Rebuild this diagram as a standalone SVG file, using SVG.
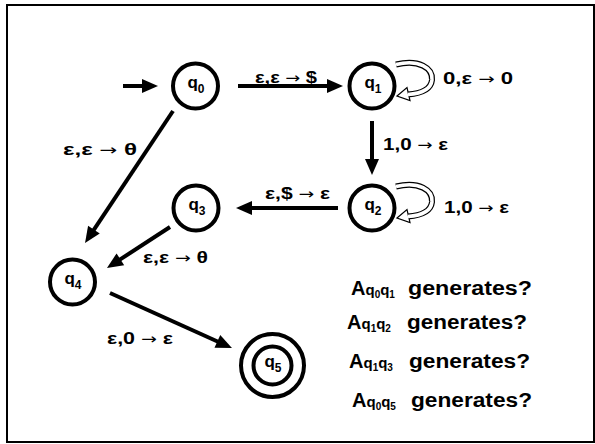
<svg xmlns="http://www.w3.org/2000/svg" width="595" height="444" viewBox="0 0 595 444">
<style>
text{font-family:"Liberation Sans",Arial,sans-serif;font-weight:bold;fill:#000}
.node{fill:#fff;stroke:#000;stroke-width:4}
.lbl{font-size:17px}
.nl{font-size:17px}
.edge{stroke:#000;stroke-width:4;fill:none}
.ar{font-weight:normal;font-family:"DejaVu Sans",sans-serif;font-size:15px}
.big{font-size:20px}
</style>
<defs>
<marker id="ah" markerUnits="userSpaceOnUse" markerWidth="16" markerHeight="14" refX="2" refY="7" orient="auto" overflow="visible">
<path d="M0,0 L16,7 L0,14 z" fill="#000"/>
</marker>
<path id="loop" d="M396,64.5 C419,59 433,68 432,80 C431,89 421,93.5 408,94.5"/>
</defs>
<rect x="7" y="5" width="587" height="437" fill="#fff" stroke="#000" stroke-width="2"/>
<g id="connectors">
<line class="edge" x1="123" y1="86" x2="144" y2="86" marker-end="url(#ah)"/>
<line class="edge" x1="238" y1="86" x2="329" y2="86" marker-end="url(#ah)"/>
<line class="edge" x1="372" y1="121" x2="372" y2="161" marker-end="url(#ah)"/>
<line class="edge" x1="338" y1="208" x2="250" y2="208" marker-end="url(#ah)"/>
<line class="edge" x1="173" y1="111" x2="92.8" y2="231.4" marker-end="url(#ah)"/>
<line class="edge" x1="170" y1="227" x2="118.7" y2="260.4" marker-end="url(#ah)"/>
<line class="edge" x1="110" y1="293" x2="219.2" y2="342.3" marker-end="url(#ah)"/>
<g id="loop1">
<use href="#loop" fill="none" stroke="#000" stroke-width="6"/>
<polygon points="397,96 407,87.5 410,100.5" fill="#fff" stroke="#000" stroke-width="1.2"/>
<use href="#loop" fill="none" stroke="#fff" stroke-width="3.6"/>
</g>
<g id="loop2" transform="translate(0,122)">
<use href="#loop" fill="none" stroke="#000" stroke-width="6"/>
<polygon points="397,96 407,87.5 410,100.5" fill="#fff" stroke="#000" stroke-width="1.2"/>
<use href="#loop" fill="none" stroke="#fff" stroke-width="3.6"/>
</g>
<text class="lbl" x="255" y="83" textLength="62" lengthAdjust="spacingAndGlyphs">ε,ε <tspan class="ar">→</tspan> $</text>
<text class="lbl" x="443" y="84" textLength="70" lengthAdjust="spacingAndGlyphs">0,ε <tspan class="ar">→</tspan> 0</text>
<text class="lbl" x="383" y="150" textLength="65" lengthAdjust="spacingAndGlyphs">1,0 <tspan class="ar">→</tspan> ε</text>
<text class="lbl" x="444" y="213" textLength="65" lengthAdjust="spacingAndGlyphs">1,0 <tspan class="ar">→</tspan> ε</text>
<text class="lbl" x="265" y="199" textLength="65" lengthAdjust="spacingAndGlyphs">ε,$ <tspan class="ar">→</tspan> ε</text>
<text class="lbl" x="63" y="155" textLength="74" lengthAdjust="spacingAndGlyphs">ε,ε <tspan class="ar">→</tspan> θ</text>
<text class="lbl" x="143" y="263" textLength="65" lengthAdjust="spacingAndGlyphs">ε,ε <tspan class="ar">→</tspan> θ</text>
<text class="lbl" x="107" y="344" textLength="66" lengthAdjust="spacingAndGlyphs">ε,0 <tspan class="ar">→</tspan> ε</text>
</g>
<g id="q0"><circle class="node" cx="195.5" cy="86" r="22.5"/><text class="nl" x="196" y="88" text-anchor="middle">q<tspan font-size="12" dy="5">0</tspan></text></g>
<g id="q1"><circle class="node" cx="372" cy="86" r="22.5"/><text class="nl" x="373" y="88" text-anchor="middle">q<tspan font-size="12" dy="5">1</tspan></text></g>
<g id="q2"><circle class="node" cx="372" cy="208" r="22.5"/><text class="nl" x="373" y="210" text-anchor="middle">q<tspan font-size="12" dy="5">2</tspan></text></g>
<g id="q3"><circle class="node" cx="196" cy="208" r="22.5"/><text class="nl" x="197" y="210" text-anchor="middle">q<tspan font-size="12" dy="5">3</tspan></text></g>
<g id="q4"><circle class="node" cx="72.5" cy="282" r="22.5"/><text class="nl" x="73" y="284" text-anchor="middle">q<tspan font-size="12" dy="5">4</tspan></text></g>
<g id="q5"><circle class="node" cx="272.5" cy="365.5" r="31.5"/><circle class="node" cx="272.5" cy="365.5" r="19"/><text class="nl" x="273" y="367" text-anchor="middle">q<tspan font-size="12" dy="5">5</tspan></text></g>
<g id="questions">
<text class="big" x="351" y="295">A<tspan font-size="15">q</tspan><tspan font-size="10" dy="3">0</tspan><tspan font-size="15" dy="-3">q</tspan><tspan font-size="10" dy="3">1</tspan></text>
<text class="big" x="408" y="295" textLength="124" lengthAdjust="spacingAndGlyphs">generates?</text>
<text class="big" x="347" y="329">A<tspan font-size="15">q</tspan><tspan font-size="10" dy="3">1</tspan><tspan font-size="15" dy="-3">q</tspan><tspan font-size="10" dy="3">2</tspan></text>
<text class="big" x="407" y="329" textLength="120" lengthAdjust="spacingAndGlyphs">generates?</text>
<text class="big" x="349" y="368">A<tspan font-size="15">q</tspan><tspan font-size="10" dy="3">1</tspan><tspan font-size="15" dy="-3">q</tspan><tspan font-size="10" dy="3">3</tspan></text>
<text class="big" x="409" y="368" textLength="121" lengthAdjust="spacingAndGlyphs">generates?</text>
<text class="big" x="352" y="407">A<tspan font-size="15">q</tspan><tspan font-size="10" dy="3">0</tspan><tspan font-size="15" dy="-3">q</tspan><tspan font-size="10" dy="3">5</tspan></text>
<text class="big" x="411" y="407" textLength="121" lengthAdjust="spacingAndGlyphs">generates?</text>
</g>
</svg>
